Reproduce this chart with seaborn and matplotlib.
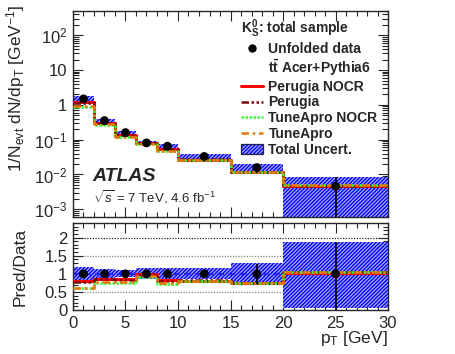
import numpy as np
import pandas as pd
import matplotlib
matplotlib.use('Agg')
import matplotlib.pyplot as plt
import seaborn as sns
from matplotlib.ticker import MultipleLocator, FixedLocator, FixedFormatter, LogLocator, NullFormatter
from matplotlib.lines import Line2D
from matplotlib.patches import Patch

# bins in pT [GeV]
bin_edges = [0, 2, 4, 6, 8, 10, 15, 20, 30]
bin_centers = [1, 3, 5, 7, 9, 12.5, 17.5, 25]

# unfolded data, 1/Nevt dN/dpT
data_vals = [1.49, 0.354, 0.160, 0.081, 0.065, 0.033, 0.0158, 0.0046]
# relative stat. error on data
data_err_up = [0.03, 0.03, 0.03, 0.10, 0.12, 0.10, 0.28, 0.88]
data_err_dn = [0.03, 0.03, 0.03, 0.10, 0.12, 0.10, 0.28, 0.99]
# total uncertainty band (relative)
unc_up = [1.18, 1.12, 1.10, 1.16, 1.16, 1.15, 1.30, 1.88]
unc_dn = [0.82, 0.89, 0.90, 0.87, 0.87, 0.85, 0.73, 0.07]

# Pred/Data for the MC tunes
ratio_perugia_nocr = [0.79, 0.85, 0.85, 1.00, 0.82, 0.81, 0.74, 1.03]
ratio_perugia = [0.77, 0.86, 0.84, 0.99, 0.81, 0.82, 0.75, 1.04]
ratio_apro_nocr = [0.60, 0.75, 0.74, 0.92, 0.72, 0.80, 0.74, 1.06]
ratio_apro = [0.62, 0.78, 0.77, 0.95, 0.75, 0.81, 0.75, 1.06]

models = [
    ('Perugia NOCR', ratio_perugia_nocr, '#ff0000', '-', 2.2),
    ('Perugia', ratio_perugia, '#7a0a0a', (0, (3, 1, 1, 1, 1, 1)), 1.8),
    ('TuneApro NOCR', ratio_apro_nocr, '#33ff33', (0, (1, 0.6)), 1.8),
    ('TuneApro', ratio_apro, '#e8740c', (0, (3, 1.5, 1, 1.5)), 1.8),
]

sns.set_style('ticks')
plt.rcParams['font.family'] = ['Liberation Sans', 'DejaVu Sans']
plt.rcParams['mathtext.fontset'] = 'custom'
plt.rcParams['mathtext.rm'] = 'Liberation Sans'
plt.rcParams['mathtext.it'] = 'Liberation Sans:italic'
plt.rcParams['mathtext.bf'] = 'Liberation Sans:bold'
plt.rcParams['hatch.linewidth'] = 1.0

fig = plt.figure(figsize=(4.56, 3.54), dpi=100)
ax = fig.add_axes([0.160, 0.387, 0.691, 0.582])
axr = fig.add_axes([0.160, 0.124, 0.691, 0.246])

data = np.array(data_vals)
edges = np.array(bin_edges)


def ext(v):
    v = list(v)
    return v + [v[-1]]


band_col = '#0000ff'
band_face = '#b0b0ff'
band_hatch = '/////////'

# ---- top panel ----
ax.fill_between(edges, ext(data * np.array(unc_dn)), ext(data * np.array(unc_up)),
                step='post', facecolor=band_face, edgecolor=band_col, hatch=band_hatch,
                linewidth=0, zorder=1)
for name, r, c, ls, lw in models:
    pred = data * np.array(r)
    sns.lineplot(x=edges, y=ext(pred), drawstyle='steps-post', estimator=None, sort=False,
                 color=c, linestyle=ls, linewidth=lw, ax=ax, zorder=3)
yerr = [data * np.array(data_err_dn), data * np.array(data_err_up)]
ax.errorbar(bin_centers, data, yerr=yerr, fmt='none', ecolor='black', elinewidth=1.2, zorder=4)
sns.scatterplot(x=bin_centers, y=data, color='black', s=40, edgecolor='none', ax=ax, zorder=5)

ax.set_yscale('log')
ax.set_xlim(0, 30)
ax.set_ylim(6e-4, 500)
ax.yaxis.set_major_locator(FixedLocator([1e-3, 1e-2, 1e-1, 1, 10, 100]))
ax.yaxis.set_major_formatter(FixedFormatter([r'$10^{-3}$', r'$10^{-2}$', r'$10^{-1}$', '1', '10', r'$10^{2}$']))
ax.yaxis.set_minor_locator(LogLocator(base=10, subs=np.arange(2, 10), numticks=20))
ax.yaxis.set_minor_formatter(NullFormatter())
ax.xaxis.set_major_locator(MultipleLocator(5))
ax.xaxis.set_minor_locator(MultipleLocator(1))
ax.tick_params(labelbottom=False)
ax.set_ylabel(r'1/N$_{\mathrm{evt}}$ dN/dp$_{\mathrm{T}}$ [GeV$^{-1}$]', fontsize=12.5, loc='top')
ax.yaxis.set_label_coords(-0.145, 1.03)

ax.text(0.063, 0.195, 'ATLAS', transform=ax.transAxes, fontsize=14, fontweight='bold',
        style='italic', va='center')
ax.text(0.063, 0.095, r'$\sqrt{s}$ = 7 TeV, 4.6 fb$^{-1}$', transform=ax.transAxes,
        fontsize=9.5, va='center')

handles = [
    Line2D([], [], color='black', marker='o', markersize=5, linestyle='none'),
    Line2D([], [], color='none'),
]
labels = ['Unfolded data', r'$\mathbf{t\bar{t}}$ Acer+Pythia6']
for name, r, c, ls, lw in models:
    handles.append(Line2D([], [], color=c, linestyle=ls, linewidth=lw))
    labels.append(name)
handles.append((Patch(facecolor=band_face, edgecolor=band_col, hatch=band_hatch, linewidth=0),
                Patch(facecolor='none', edgecolor='#222244', linewidth=0.9)))
labels.append('Total Uncert.')
leg = ax.legend(handles, labels, loc='upper left', bbox_to_anchor=(0.528, 0.975),
                frameon=False, prop={'weight': 'bold', 'size': 10}, numpoints=1,
                title=r'$\mathbf{K^0_S}$: total sample', title_fontproperties={'weight': 'bold', 'size': 10},
                alignment='left', handlelength=1.6, handletextpad=0.4, labelspacing=0.13,
                borderaxespad=0, borderpad=0.1)

# ---- ratio panel ----
ones = np.ones(len(data_vals))
axr.fill_between(edges, ext(unc_dn), ext(unc_up), step='post', facecolor=band_face,
                 edgecolor=band_col, hatch=band_hatch, linewidth=0, zorder=1)
for yl, c in [(0.5, '#888888'), (1.5, '#888888'), (2.0, '#222222')]:
    axr.axhline(yl, color=c, linestyle=(0, (1, 1.2)), linewidth=0.9, zorder=0)
axr.axhline(1.0, color='#2222ff', linestyle=(0, (3, 2)), linewidth=1.6, zorder=2)
for name, r, c, ls, lw in models:
    sns.lineplot(x=edges, y=ext(r), drawstyle='steps-post', estimator=None, sort=False,
                 color=c, linestyle=ls, linewidth=lw, ax=axr, zorder=3)
axr.errorbar(bin_centers, ones, yerr=[data_err_dn, data_err_up], fmt='none', ecolor='black',
             elinewidth=1.2, zorder=4)
sns.scatterplot(x=bin_centers, y=ones, color='black', s=40, edgecolor='none', ax=axr, zorder=5)

axr.set_xlim(0, 30)
axr.set_ylim(0, 2.4)
axr.yaxis.set_major_locator(FixedLocator([0, 0.5, 1, 1.5, 2]))
axr.yaxis.set_major_formatter(FixedFormatter(['0', '0.5', '1', '1.5', '2']))
axr.yaxis.set_minor_locator(MultipleLocator(0.1))
axr.xaxis.set_major_locator(MultipleLocator(5))
axr.xaxis.set_minor_locator(MultipleLocator(1))
axr.set_ylabel('Pred/Data', fontsize=12.5)
axr.yaxis.set_label_coords(-0.145, 0.5)
axr.set_xlabel(r'p$_{\mathrm{T}}$ [GeV]', fontsize=12.5, loc='right')
axr.xaxis.set_label_coords(1.0, -0.22)

for a in (ax, axr):
    a.tick_params(which='both', direction='in', top=True, right=True, labelsize=12, pad=4)
    a.tick_params(which='major', length=7, width=0.8)
    a.tick_params(which='minor', length=3.5, width=0.8)
    for s in a.spines.values():
        s.set_linewidth(1.0)
ax.tick_params(axis='y', which='minor', length=4)

fig.savefig('out.png', dpi=100)
